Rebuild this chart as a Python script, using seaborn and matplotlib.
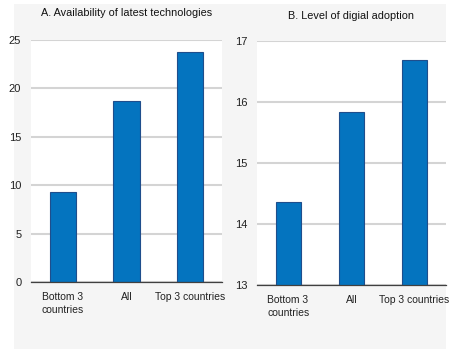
import matplotlib
matplotlib.use("Agg")
import matplotlib.pyplot as plt
import matplotlib.patches as mpatches
import pandas as pd
import seaborn as sns

categories = ["Bottom 3\ncountries", "All", "Top 3 countries"]
availability = [9.25, 18.7, 23.8]
adoption = [14.36, 15.83, 16.69]

sns.set_style("white")
plt.rcParams["font.family"] = ["Liberation Sans Narrow", "Liberation Sans", "DejaVu Sans"]

BLUE = "#0474bf"
EDGE = "#1f4e8c"
GRID = "#d4d4d4"

fig = plt.figure(figsize=(4.56, 3.53), dpi=100, facecolor="white")
W, H = 456, 353

# grey panel behind the charts
fig.patches.append(mpatches.Rectangle((14 / W, 4 / H), 432 / W, 345 / H,
                                      transform=fig.transFigure, facecolor="#f5f5f5",
                                      edgecolor="none", zorder=-10))


def px_axes(x0, y0, x1, y1):
    return fig.add_axes([x0 / W, 1 - y1 / H, (x1 - x0) / W, (y1 - y0) / H])


def draw_panel(ax, values, ylim, yticks, title, title_y):
    df = pd.DataFrame({"cat": categories, "val": values})
    sns.barplot(data=df, x="cat", y="val", ax=ax, color=BLUE, width=0.41,
                edgecolor=EDGE, linewidth=0.8, saturation=1)
    ax.set_facecolor("white")
    ax.set_xlim(-0.5, 2.5)
    ax.set_ylim(*ylim)
    ax.set_yticks(yticks)
    ax.set_yticklabels([str(t) for t in yticks])
    ax.set_xlabel("")
    ax.set_ylabel("")
    ax.yaxis.grid(True, color=GRID, linewidth=1.5)
    ax.set_axisbelow(True)
    for s in ["left", "right", "top"]:
        ax.spines[s].set_visible(False)
    ax.spines["bottom"].set_color("#404040")
    ax.spines["bottom"].set_linewidth(0.9)
    ax.tick_params(axis="y", length=0, pad=7, labelsize=8, labelcolor="#222222")
    ax.tick_params(axis="x", which="major", length=0, pad=7, labelsize=7.5,
                   labelcolor="#222222")
    for lab in ax.get_xticklabels():
        lab.set_multialignment("left")
        lab.set_linespacing(1.4)
    ax.set_xticks([-0.5, 0.5, 1.5, 2.5], minor=True)
    ax.tick_params(axis="x", which="minor", direction="in", length=4,
                   width=0.8, color="#404040")
    ax.set_title(title, fontsize=7.8, y=title_y, color="#111111")


ax1 = px_axes(31, 40, 222, 282)
draw_panel(ax1, availability, (0, 25), [0, 5, 10, 15, 20, 25],
           "A. Availability of latest technologies", 1.065)

ax2 = px_axes(257, 41, 446, 285)
draw_panel(ax2, adoption, (13, 17), [13, 14, 15, 16, 17],
           "B. Level of digial adoption", 1.055)

fig.savefig("out.png", dpi=100, facecolor="white")
